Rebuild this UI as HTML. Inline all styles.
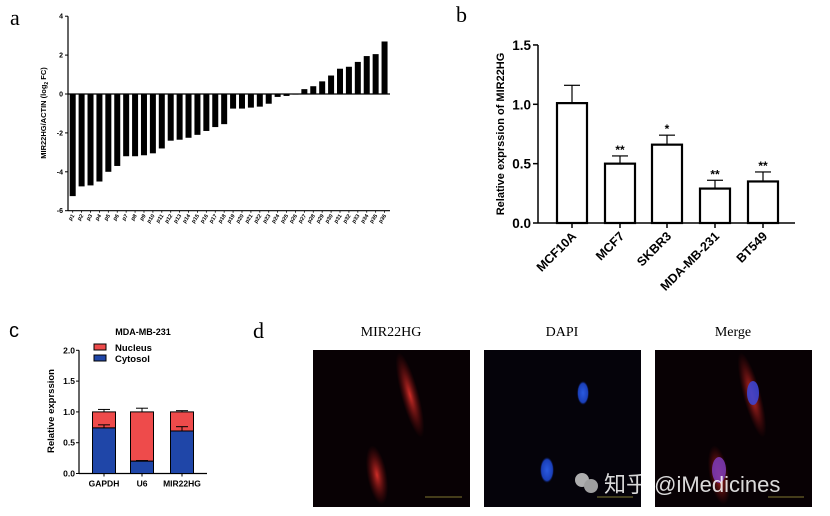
<!DOCTYPE html>
<html><head><meta charset="utf-8"><style>
body{margin:0;background:#fff;}
svg{display:block;font-family:"Liberation Sans",sans-serif;}
.t{font-weight:bold;fill:#000;}
.lab{font-family:"Liberation Serif",serif;}
</style></head><body>
<svg id="fig" width="830" height="516" viewBox="0 0 830 516">
<text class="lab" x="10" y="25" font-size="22">a</text>
<text class="lab" x="456" y="22" font-size="22">b</text>
<text x="9" y="337" font-size="20">c</text>
<text class="lab" x="253" y="338" font-size="22">d</text>
<g id="ga"></g>
<g id="gb"></g>
<g id="gc"></g>
<g id="gd">
 <defs>
  <radialGradient id="rc"><stop offset="0" stop-color="#d8302a" stop-opacity="0.95"/><stop offset="1" stop-color="#8a0d0d" stop-opacity="0"/></radialGradient>
  <radialGradient id="bc"><stop offset="0" stop-color="#2a5ae0"/><stop offset="0.8" stop-color="#1a3fb8"/><stop offset="1" stop-color="#0a1a60" stop-opacity="0"/></radialGradient>
 </defs>
 <text class="lab" x="391" y="336" font-size="14" text-anchor="middle">MIR22HG</text>
 <text class="lab" x="562" y="336" font-size="14" text-anchor="middle">DAPI</text>
 <text class="lab" x="733" y="336" font-size="14" text-anchor="middle">Merge</text>
 <g>
  <rect x="313" y="350" width="157" height="157" fill="#080104"/>
  <ellipse cx="410" cy="395" rx="9" ry="44" transform="rotate(-15 410 395)" fill="url(#rc)"/>
  <ellipse cx="377" cy="475" rx="10" ry="30" transform="rotate(-10 377 475)" fill="url(#rc)"/>
  <line x1="425" y1="497" x2="462" y2="497" stroke="#aaa040" stroke-width="0.8"/>
 </g>
 <g>
  <rect x="484" y="350" width="157" height="157" fill="#05030a"/>
  <ellipse cx="583" cy="393" rx="6" ry="12" fill="url(#bc)"/>
  <ellipse cx="547" cy="470" rx="7" ry="13" fill="url(#bc)"/>
  <line x1="597" y1="497" x2="633" y2="497" stroke="#aaa040" stroke-width="0.8"/>
 </g>
 <g>
  <rect x="655" y="350" width="157" height="157" fill="#080104"/>
  <ellipse cx="752" cy="395" rx="9" ry="44" transform="rotate(-15 752 395)" fill="url(#rc)"/>
  <ellipse cx="719" cy="475" rx="10" ry="30" transform="rotate(-10 719 475)" fill="url(#rc)"/>
  <ellipse cx="753" cy="393" rx="6" ry="12" fill="#3c45d0" opacity="0.9"/>
  <ellipse cx="719" cy="470" rx="7" ry="13" fill="#7a38b0" opacity="0.9"/>
  <line x1="768" y1="497" x2="804" y2="497" stroke="#aaa040" stroke-width="0.8"/>
 </g>
 <g opacity="0.85">
  <circle cx="582" cy="480" r="7" fill="#ccc"/><circle cx="591" cy="486" r="7" fill="#bbb"/>
  <text x="604" y="492" font-size="22" fill="#fff" font-family="'Liberation Sans','Noto Sans CJK SC',sans-serif">知乎 @iMedicines</text>
 </g>
</g>
</svg>
<script>
const NS='http://www.w3.org/2000/svg';
function mk(p,tag,at,txt){const e=document.createElementNS(NS,tag);for(const k in at)e.setAttribute(k,at[k]);if(txt!==undefined)e.textContent=txt;p.appendChild(e);return e;}

// Panel a data
const aCats=[];for(let i=1;i<=36;i++)aCats.push('p'+i);
const aVals=[-5.25,-4.75,-4.7,-4.5,-4.0,-3.7,-3.2,-3.2,-3.15,-3.05,-2.8,-2.4,-2.35,-2.25,-2.1,-1.9,-1.7,-1.55,-0.75,-0.75,-0.7,-0.65,-0.5,-0.15,-0.1,-0.03,0.25,0.4,0.65,0.95,1.3,1.4,1.65,1.95,2.05,2.7];
const aTicks=[4,2,0,-2,-4,-6];

// Panel b data
const bCats=['MCF10A','MCF7','SKBR3','MDA-MB-231','BT549'];
const bVals=[1.01,0.5,0.66,0.29,0.35];
const bErr=[0.15,0.065,0.08,0.07,0.08];
const bSig=['','**','*','**','**'];
const bTicks=[0,0.5,1.0,1.5];

// Panel c data
const cCats=['GAPDH','U6','MIR22HG'];
const cCyto=[0.74,0.2,0.69];
const cCytoErr=[0.05,0.01,0.07];
const cTotalErr=[0.04,0.06,0.02];
const cTicks=[0,0.5,1.0,1.5,2.0];

// ---- Panel a
(function(){
 const g=document.getElementById('ga');
 const y=v=>94-v*19.45, x0=72.7, dx=8.91, ax=68;
 mk(g,'line',{x1:ax,y1:y(4),x2:ax,y2:y(-6),stroke:'#000','stroke-width':1.2});
 mk(g,'line',{x1:ax,y1:y(-6),x2:390,y2:y(-6),stroke:'#000','stroke-width':1.2});
 aTicks.forEach(t=>{
  const l=mk(g,'line',{x1:ax-3,y1:y(t),x2:ax,y2:y(t),stroke:'#000'});
  
  
  const tx=mk(g,'text',{x:ax-5,y:y(t)+2.5,'font-size':7,'text-anchor':'end',class:'t'},t);
  
  
 });
 aVals.forEach((v,i)=>{
  const cx=x0+i*dx;
  const r=mk(g,'rect',{x:cx-3,y:Math.min(y(v),y(0)),width:6,height:Math.abs(y(v)-y(0)),fill:'#000'});
  
  
  mk(g,'line',{x1:cx,y1:y(-6),x2:cx,y2:y(-6)+2,stroke:'#000','stroke-width':0.8});
  const t=mk(g,'text',{x:cx+2,y:y(-6)+5,'font-size':5.5,'text-anchor':'end',class:'t',transform:`rotate(-55 ${cx+2} ${y(-6)+5})`},aCats[i]);
  
  
 });
 mk(g,'line',{x1:ax,y1:y(0),x2:390,y2:y(0),stroke:'#000','stroke-width':1.2});
 const yl=mk(g,'text',{x:0,y:0,'font-size':7.5,class:'t','text-anchor':'middle',transform:'translate(46 113) rotate(-90)'});
 yl.innerHTML='MIR22HG/ACTIN (log<tspan font-size="5" dy="2">2</tspan><tspan dy="-2"> FC)</tspan>';
 
 
})();

// ---- Panel b
(function(){
 const g=document.getElementById('gb');
 const y=v=>223-v*118.7, ax=538, xs=[572,620,667,715,763];
 mk(g,'line',{x1:ax,y1:y(1.5),x2:ax,y2:y(0),stroke:'#000','stroke-width':1.5});
 mk(g,'line',{x1:ax,y1:y(0),x2:795,y2:y(0),stroke:'#000','stroke-width':1.5});
 bTicks.forEach(t=>{
  mk(g,'line',{x1:ax-5,y1:y(t),x2:ax,y2:y(t),stroke:'#000','stroke-width':1.5});
  const tx=mk(g,'text',{x:ax-7,y:y(t)+5,'font-size':13.5,'text-anchor':'end',class:'t'},t.toFixed(1));
  
  
 });
 bVals.forEach((v,i)=>{
  const cx=xs[i];
  mk(g,'line',{x1:cx,y1:y(v),x2:cx,y2:y(v+bErr[i]),stroke:'#000','stroke-width':1.2});
  mk(g,'line',{x1:cx-8,y1:y(v+bErr[i]),x2:cx+8,y2:y(v+bErr[i]),stroke:'#000','stroke-width':1.2});
  const r=mk(g,'rect',{x:cx-15,y:y(v),width:30,height:y(0)-y(v),fill:'#fff',stroke:'#000','stroke-width':2.2});
  
  
  mk(g,'line',{x1:cx,y1:y(0),x2:cx,y2:y(0)+5,stroke:'#000','stroke-width':1.5});
  if(bSig[i]){const s=mk(g,'text',{x:cx,y:y(v+bErr[i])-2,'font-size':12,'text-anchor':'middle',class:'t'},bSig[i]);
   
   }
  const t=mk(g,'text',{x:cx+5,y:y(0)+14,'font-size':12.5,'text-anchor':'end',class:'t',transform:`rotate(-45 ${cx+5} ${y(0)+14})`},bCats[i]);
  
  
 });
 const yl=mk(g,'text',{x:0,y:0,'font-size':11,class:'t','text-anchor':'middle',transform:'translate(504 134) rotate(-90)'},'Relative exprssion of MIR22HG');
 
 
})();

// ---- Panel c
(function(){
 const g=document.getElementById('gc');
 const y=v=>473.5-v*61.6, ax=79, xs=[104,142,182], w=23;
 const ti=mk(g,'text',{x:143,y:335,'font-size':9,'text-anchor':'middle',class:'t'},'MDA-MB-231');
 
 
 mk(g,'line',{x1:ax,y1:y(2),x2:ax,y2:y(0),stroke:'#000','stroke-width':1.2});
 mk(g,'line',{x1:ax,y1:y(0),x2:207,y2:y(0),stroke:'#000','stroke-width':1.2});
 cTicks.forEach(t=>{
  mk(g,'line',{x1:ax-3,y1:y(t),x2:ax,y2:y(t),stroke:'#000'});
  const tx=mk(g,'text',{x:ax-4,y:y(t)+3,'font-size':8.5,'text-anchor':'end',class:'t'},t.toFixed(1));
  
  
 });
 cCats.forEach((c,i)=>{
  const cx=xs[i];
  mk(g,'line',{x1:cx,y1:y(1),x2:cx,y2:y(1+cTotalErr[i]),stroke:'#000'});
  mk(g,'line',{x1:cx-6,y1:y(1+cTotalErr[i]),x2:cx+6,y2:y(1+cTotalErr[i]),stroke:'#000'});
  const n=mk(g,'rect',{x:cx-w/2,y:y(1),width:w,height:y(cCyto[i])-y(1),fill:'#ee4b4b',stroke:'#000','stroke-width':1});
  
  
  const b=mk(g,'rect',{x:cx-w/2,y:y(cCyto[i]),width:w,height:y(0)-y(cCyto[i]),fill:'#1f46a8',stroke:'#000','stroke-width':1});
  
  
  mk(g,'line',{x1:cx,y1:y(cCyto[i]),x2:cx,y2:y(cCyto[i]+cCytoErr[i]),stroke:'#000'});
  mk(g,'line',{x1:cx-6,y1:y(cCyto[i]+cCytoErr[i]),x2:cx+6,y2:y(cCyto[i]+cCytoErr[i]),stroke:'#000'});
  mk(g,'line',{x1:cx,y1:y(0),x2:cx,y2:y(0)+3,stroke:'#000'});
  const t=mk(g,'text',{x:cx,y:y(0)+13,'font-size':8.5,'text-anchor':'middle',class:'t'},c);
  
  
 });
 const l1=mk(g,'rect',{x:94,y:344,width:12,height:6,fill:'#ee4b4b',stroke:'#000'});
 
 
 const l1t=mk(g,'text',{x:115,y:351,'font-size':9.5,class:'t'},'Nucleus');
 
 
 const l2=mk(g,'rect',{x:94,y:355,width:12,height:6,fill:'#1f46a8',stroke:'#000'});
 
 
 const l2t=mk(g,'text',{x:115,y:362,'font-size':9.5,class:'t'},'Cytosol');
 
 
 const yl=mk(g,'text',{x:0,y:0,'font-size':9.5,class:'t','text-anchor':'middle',transform:'translate(54 411) rotate(-90)'},'Relative exprssion');
 
 
})();
</script>
</body></html>
